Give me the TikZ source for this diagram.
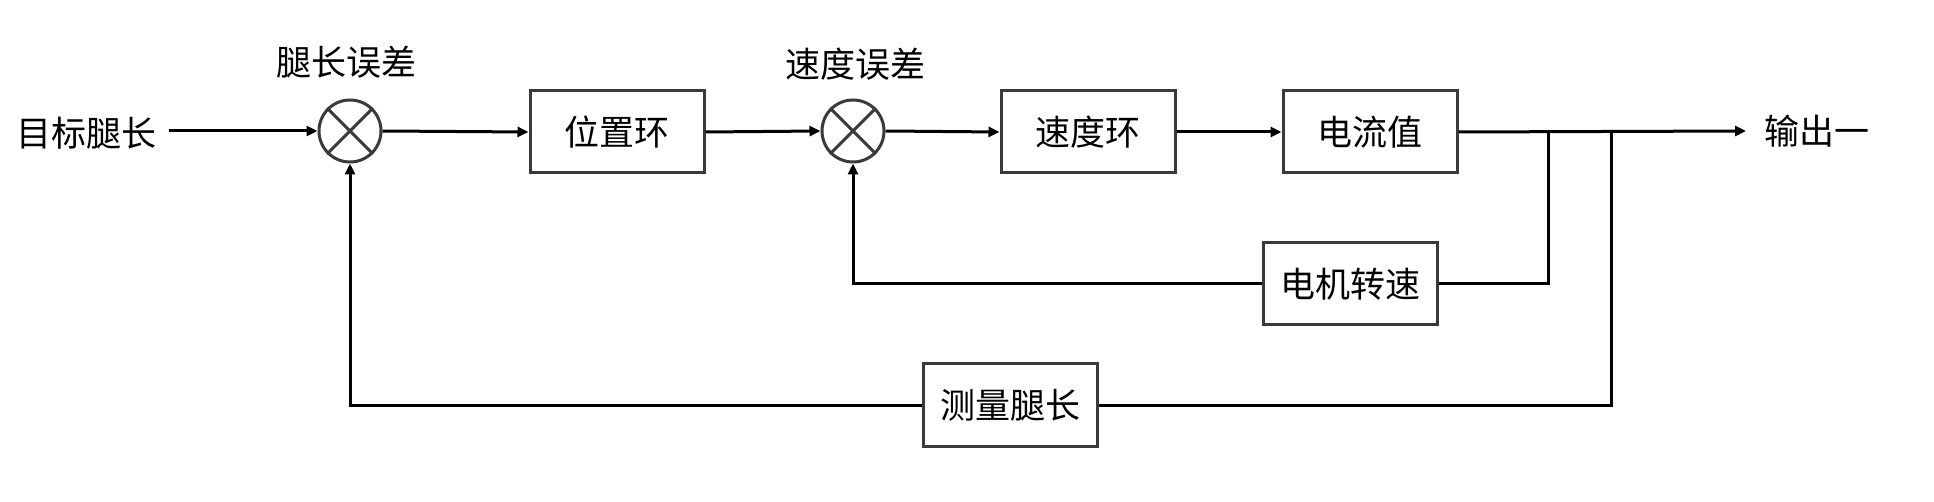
\documentclass[tikz,border=0pt]{standalone}
\usepackage{fontspec}
\setmainfont{Noto Sans CJK SC}
\usetikzlibrary{arrows.meta,positioning}
\definecolor{boxgray}{HTML}{3A3A3A}
\tikzset{
  blk/.style={draw=boxgray, line width=1.5pt, minimum width=87pt, minimum height=41pt, inner sep=0pt, font=\fontsize{17.5}{20}\selectfont},
  sumnode/.style={draw=boxgray, line width=1.5pt, circle, minimum size=31pt, inner sep=0pt},
  lbl/.style={inner sep=0pt, font=\fontsize{17.5}{20}\selectfont},
  wire/.style={line width=1.5pt, black},
  arr/.style={wire, -{Triangle[length=5.5pt,width=5pt]}}
}
\begin{document}
\begin{tikzpicture}[x=0.5pt,y=-0.5pt]
\useasboundingbox (0,0) rectangle (1934,502);
\node[lbl] (in) at (87,133) {目标腿长};
\node[sumnode] (s1) at (350,131) {};
\draw[boxgray, line width=1.5pt] (s1.north west) -- (s1.south east) (s1.north east) -- (s1.south west);
\node[lbl] (l1) at (346,62) {腿长误差};
\node[blk] (pos) at (617,132) {位置环};
\node[sumnode] (s2) at (853,131) {};
\draw[boxgray, line width=1.5pt] (s2.north west) -- (s2.south east) (s2.north east) -- (s2.south west);
\node[lbl] (l2) at (855,64) {速度误差};
\node[blk] (spd) at (1088,132) {速度环};
\node[blk] (cur) at (1370,132) {电流值};
\node[lbl, anchor=west] (out) at (1764,131) {输出一};
\node[blk] (mot) at (1350,284) {电机转速};
\node[blk] (meas) at (1010,405) {测量腿长};
\coordinate (b1) at (1548,131);
\coordinate (b2) at (1611,131);
\coordinate (oend) at (1746,131);
\draw[arr] (in.east) ++(12,-2) -- (s1.west);
\draw[arr] (s1.east) -- (pos.west);
\draw[arr] (pos.east) -- (s2.west);
\draw[arr] (s2.east) -- (spd.west);
\draw[arr] (spd.east) -- (cur.west);
\draw[arr] (cur.east) -- (oend);
\draw[wire] (b1) |- (mot.east);
\draw[arr] (mot.west) -| (s2.south);
\draw[wire] (b2) |- (meas.east);
\draw[arr] (meas.west) -| (s1.south);
\end{tikzpicture}
\end{document}
